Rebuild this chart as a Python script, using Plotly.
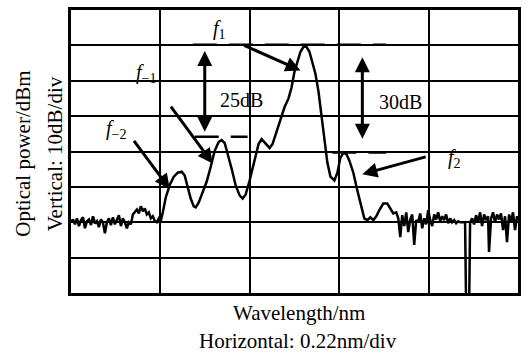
import plotly.graph_objects as go

# Horizontal position in divisions (0.22 nm/div), power in dBm (10 dB/div)
noise_left_x = [0.00, 0.022, 0.045, 0.067, 0.089, 0.112, 0.134, 0.156, 0.179, 0.201, 0.223, 0.246,
                0.268, 0.290, 0.312, 0.335, 0.357, 0.379, 0.402, 0.424, 0.446, 0.469, 0.491, 0.513,
                0.536, 0.558, 0.580, 0.603, 0.625, 0.647, 0.670, 0.692, 0.714, 0.737, 0.759, 0.781,
                0.804, 0.826, 0.848, 0.871, 0.893, 0.915, 0.938, 0.960, 0.982, 1.004]
noise_left_p = [-60.0, -59.2, -60.6, -58.9, -61.1, -59.4, -58.6, -61.7, -59.7, -59.2, -60.8, -58.3,
                -60.3, -59.7, -61.4, -59.2, -60.0, -63.1, -60.0, -58.9, -60.8, -58.6, -60.6, -59.4,
                -58.0, -61.1, -58.9, -60.0, -61.7, -60.0, -60.6, -57.8, -57.2, -56.4, -57.5, -55.5,
                -56.9, -56.1, -57.8, -57.2, -58.9, -58.3, -59.7, -60.0, -58.9, -59.7]

signal_x = [1.027, 1.060, 1.105, 1.150, 1.194, 1.239, 1.272, 1.306, 1.339, 1.373, 1.395, 1.429,
            1.473, 1.518, 1.563, 1.607, 1.652, 1.685, 1.719, 1.752, 1.797, 1.842, 1.886, 1.920,
            1.953, 1.998, 2.031, 2.065, 2.098, 2.132, 2.176, 2.221, 2.254, 2.299, 2.344, 2.388,
            2.433, 2.467, 2.500, 2.533, 2.567, 2.600, 2.634, 2.667, 2.701, 2.734, 2.768, 2.801,
            2.835, 2.868, 2.902, 2.946, 2.980, 3.013, 3.047, 3.080, 3.114, 3.158, 3.203, 3.248,
            3.281, 3.315, 3.348, 3.382, 3.415, 3.449, 3.493, 3.538, 3.571, 3.605, 3.638]
signal_p = [-57.2, -53.0, -49.4, -47.1, -46.0, -45.7, -46.8, -49.9, -53.3, -55.5, -55.8, -54.4,
            -51.6, -48.5, -44.3, -39.8, -37.3, -36.8, -37.6, -40.4, -44.9, -49.6, -52.4, -53.3,
            -52.2, -48.2, -44.9, -41.2, -37.9, -36.5, -37.6, -39.0, -37.9, -34.2, -30.6, -27.5,
            -25.0, -21.9, -17.4, -14.6, -11.8, -10.4, -10.4, -11.8, -14.6, -18.0, -23.0, -29.5,
            -36.5, -43.2, -47.1, -48.2, -46.0, -41.8, -40.4, -40.7, -42.6, -46.0, -51.0, -56.1,
            -58.9, -59.4, -58.6, -59.4, -58.3, -56.6, -54.7, -54.7, -56.1, -57.5, -57.2]

noise_right_x = [3.661, 3.683, 3.705, 3.728, 3.750, 3.772, 3.795, 3.817, 3.839, 3.862, 3.884, 3.906,
                 3.929, 3.951, 3.973, 3.996, 4.018, 4.040, 4.063, 4.085, 4.107, 4.129, 4.152, 4.174,
                 4.196, 4.219, 4.241, 4.263, 4.286, 4.308, 4.330, 4.353, 4.375, 4.397, 4.408, 4.420,
                 4.453, 4.464, 4.487, 4.509, 4.531, 4.554, 4.576, 4.598, 4.621, 4.643, 4.665, 4.676,
                 4.699, 4.721, 4.743, 4.766, 4.788, 4.810, 4.833, 4.855, 4.877, 4.900, 4.922, 4.944,
                 4.967, 4.989, 5.000]
noise_right_p = [-58.9, -64.2, -58.0, -61.1, -57.2, -62.8, -59.2, -57.8, -66.4, -59.4, -60.0, -57.5,
                 -61.7, -58.9, -60.6, -56.6, -59.4, -61.1, -57.8, -59.2, -57.2, -59.7, -58.3, -59.4,
                 -57.8, -60.3, -58.9, -60.0, -59.4, -60.3, -59.7, -60.0, -60.0, -60.0, -60.0, -85.0,
                 -85.0, -60.0, -58.9, -60.6, -58.0, -60.0, -57.2, -61.1, -57.8, -59.4, -58.3, -68.4,
                 -58.9, -57.2, -60.0, -57.8, -59.2, -57.5, -62.2, -58.3, -65.6, -57.8, -60.0, -57.2,
                 -62.2, -58.3, -59.4]

x_all = noise_left_x + signal_x + noise_right_x
p_all = noise_left_p + signal_p + noise_right_p

# Reference (dashed) levels
peak_level = -9.8
f_m1_level = -35.8
f2_level = -40.3
peak_line_x = [1.362, 3.527]
f_m1_line_x = [1.384, 1.975]
f2_line_x = [2.924, 3.527]

SERIF = "Liberation Serif"

fig = go.Figure()
fig.add_trace(go.Scatter(x=x_all, y=p_all, mode="lines",
                         line=dict(color="black", width=2.5), showlegend=False, hoverinfo="skip"))
for lx, lv in [(peak_line_x, peak_level), (f_m1_line_x, f_m1_level), (f2_line_x, f2_level)]:
    fig.add_trace(go.Scatter(x=lx, y=[lv, lv], mode="lines",
                             line=dict(color="black", width=2.5, dash="24px,12px"),
                             showlegend=False, hoverinfo="skip"))

axis_common = dict(showgrid=True, gridcolor="black", gridwidth=2, showticklabels=False,
                   ticks="", showline=True, linecolor="black", linewidth=3, mirror=True,
                   zeroline=False, fixedrange=True)
fig.update_xaxes(range=[0, 5], dtick=1, tick0=0, **axis_common)
fig.update_yaxes(range=[-80, 0], dtick=10, tick0=0, **axis_common)

anns = []
# double arrows
for xa, y1, y2 in [(1.496, -11.2, -34.4), (3.259, -12.9, -36.4)]:
    anns.append(dict(x=xa, y=y2, ax=xa, ay=y1, xref="x", yref="y", axref="x", ayref="y",
                     text="", showarrow=True, arrowhead=2, startarrowhead=2, arrowside="end+start",
                     arrowwidth=3, arrowsize=1, startarrowsize=1, arrowcolor="black"))
# pointer arrows (tail -> head)
for tx, ty, hx, hy in [(1.920, -9.8, 2.567, -17.1), (1.105, -26.9, 1.585, -43.4),
                       (0.692, -36.6, 1.105, -50.6), (3.984, -41.4, 3.259, -46.4)]:
    anns.append(dict(x=hx, y=hy, ax=tx, ay=ty, xref="x", yref="y", axref="x", ayref="y",
                     text="", showarrow=True, arrowhead=2, arrowwidth=3, arrowsize=1,
                     arrowcolor="black"))
labels = [("<i>f</i><sub>1</sub>", 1.663, -5.6), ("<i>f</i><sub>−1</sub>", 0.837, -17.9),
          ("<i>f</i><sub>−2</sub>", 0.502, -33.9), ("<i>f</i><sub>2</sub>", 4.286, -42.0),
          ("25dB", 1.908, -25.5), ("30dB", 3.683, -26.0)]
for t, lx, ly in labels:
    anns.append(dict(x=lx, y=ly, xref="x", yref="y", text=t, showarrow=False,
                     font=dict(family=SERIF, size=20, color="black"),
                     bgcolor="rgba(0,0,0,0)"))
# axis titles
anns.append(dict(x=-0.107, y=0.493, xref="paper", yref="paper", text="Optical power/dBm",
                 textangle=-90, showarrow=False, xanchor="center", yanchor="middle",
                 font=dict(family=SERIF, size=21, color="black")))
anns.append(dict(x=-0.034, y=0.493, xref="paper", yref="paper", text="Vertical: 10dB/div",
                 textangle=-90, showarrow=False, xanchor="center", yanchor="middle",
                 font=dict(family=SERIF, size=21, color="black")))
anns.append(dict(x=0.511, y=-0.070, xref="paper", yref="paper", text="Wavelength/nm",
                 showarrow=False, xanchor="center", yanchor="middle",
                 font=dict(family=SERIF, size=21, color="black")))
anns.append(dict(x=0.507, y=-0.168, xref="paper", yref="paper", text="Horizontal: 0.22nm/div",
                 showarrow=False, xanchor="center", yanchor="middle",
                 font=dict(family=SERIF, size=21, color="black")))

fig.update_layout(width=528, height=354, margin=dict(l=71, r=9, t=7, b=61),
                  paper_bgcolor="white", plot_bgcolor="white", annotations=anns,
                  showlegend=False)
fig.write_html("out.html", config={"displayModeBar": False})
